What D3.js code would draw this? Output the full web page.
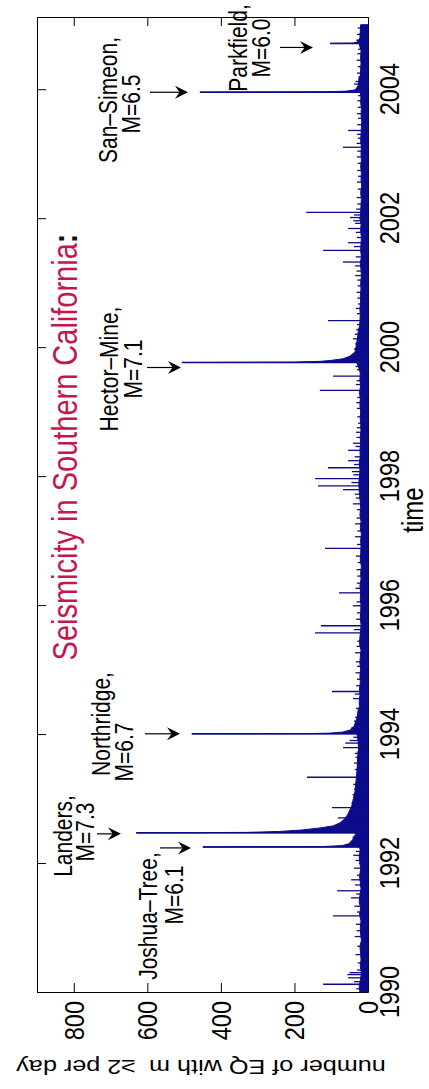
<!DOCTYPE html>
<html>
<head>
<meta charset="utf-8">
<script src="https://cdn.jsdelivr.net/npm/d3@7"></script>
<style>
  html, body { margin: 0; padding: 0; background: #fff; }
  svg { display: block; }
  text { font-family: "Liberation Sans", Arial, Helvetica, sans-serif; }
</style>
</head>
<body>
<svg id="chart" width="429" height="1089"></svg>
<script>
// ---- data -------------------------------------------------------------
const yearTicks = [1990, 1992, 1994, 1996, 1998, 2000, 2002, 2004];
const countTicks = [0, 200, 400, 600, 800];

// background daily rate, one value every 0.1 yr starting 1990.0
const bgStart = 1990;
const bgStep = 0.1;
const bgCounts = [
  22, 24, 20, 18, 21, 19, 20, 22, 18, 20,
  21, 19, 23, 20, 24, 22, 19, 21, 23, 20,
  22, 24, 21, 26, 30, 38, 34, 32, 30, 31,
  29, 28, 30, 27, 28, 26, 27, 25, 26, 27,
  30, 26, 24, 25, 23, 24, 22, 23, 21, 22,
  20, 22, 21, 19, 23, 22, 20, 19, 21, 20,
  19, 21, 20, 22, 19, 20, 18, 21, 20, 19,
  20, 18, 21, 19, 22, 20, 21, 23, 24, 25,
  23, 22, 24, 21, 22, 20, 21, 19, 20, 21,
  20, 22, 21, 23, 20, 22, 21, 26, 34, 30,
  27, 25, 24, 23, 22, 21, 22, 20, 21, 19,
  20, 18, 19, 21, 18, 20, 19, 18, 20, 19,
  21, 20, 19, 18, 20, 17, 19, 18, 20, 18,
  19, 18, 20, 19, 18, 17, 19, 18, 20, 19,
  24, 22, 21, 20, 19, 20, 19, 24, 22, 21,
  20
];

// aftershock decay after each mainshock: [year, count]
const tailJoshua = [[1992.25, 449], [1992.256, 120], [1992.27, 70], [1992.30, 52], [1992.36, 42], [1992.43, 36]];
const tailLanders = [[1992.468, 630], [1992.475, 330], [1992.49, 240], [1992.514, 177], [1992.545, 130],
  [1992.576, 95], [1992.623, 76], [1992.685, 63], [1992.763, 54], [1992.887, 44], [1993.12, 35],
  [1993.43, 30], [1993.74, 27]];
const tailNorthridge = [[1994.004, 479], [1994.008, 150], [1994.015, 103], [1994.03, 70], [1994.06, 50],
  [1994.12, 38], [1994.25, 30], [1994.4, 26]];
const tailHector = [[1999.762, 506], [1999.768, 200], [1999.78, 130], [1999.793, 103], [1999.82, 68],
  [1999.86, 49], [1999.93, 35], [2000.09, 30], [2000.3, 25]];
const tailSanSimeon = [[2003.953, 457], [2003.96, 120], [2003.97, 60], [2003.99, 35], [2004.05, 27], [2004.2, 24]];
const tailParkfield = [[2004.71, 103], [2004.715, 40], [2004.73, 30], [2004.78, 24]];

// single busy days: [year, count]
const spikes = [
  [1990.12, 122], [1990.22, 54], [1990.27, 56], [1990.30, 50], [1991.18, 95], [1991.46, 46],
  [1991.57, 84], [1991.74, 46], [1992.70, 82], [1992.86, 98], [1993.33, 166], [1993.79, 68],
  [1993.86, 62], [1993.90, 50], [1994.55, 41], [1994.66, 98], [1995.26, 35], [1995.57, 144],
  [1995.68, 128], [1995.99, 41], [1996.19, 79], [1996.34, 30], [1996.88, 117], [1997.06, 35],
  [1997.26, 35], [1997.48, 30], [1997.57, 41], [1997.79, 68], [1997.85, 136], [1997.96, 144],
  [1998.13, 109], [1998.24, 54], [1998.40, 54], [1998.51, 41], [1998.82, 27], [1999.33, 131],
  [1999.55, 95], [2000.13, 41], [2000.41, 109], [2000.67, 27], [2001.11, 35], [2001.26, 35],
  [2001.32, 68], [2001.50, 122], [2001.62, 54], [2001.84, 54], [2002.01, 49], [2002.09, 168],
  [2003.10, 68], [2003.36, 54]
];

const minorSpikes = [
  [1990.05, 32], [1990.16, 38], [1990.34, 30], [1990.45, 28], [1990.58, 34], [1990.71, 29], [1990.86, 36], [1990.95, 31],
  [1991.05, 33], [1991.24, 30], [1991.33, 37], [1991.52, 32], [1991.66, 35], [1991.81, 30], [1991.92, 38],
  [1992.04, 34], [1992.12, 40], [1992.18, 33], [1992.40, 42], [1992.58, 60], [1992.64, 55], [1992.74, 50],
  [1992.80, 47], [1992.93, 45], [1992.98, 40],
  [1993.06, 42], [1993.15, 38], [1993.22, 40], [1993.45, 36], [1993.55, 38], [1993.64, 34], [1993.70, 36], [1993.95, 40],
  [1994.10, 45], [1994.20, 38], [1994.26, 35], [1994.40, 33], [1994.62, 36], [1994.75, 32], [1994.85, 30], [1994.95, 34],
  [1995.05, 30], [1995.12, 33], [1995.36, 31], [1995.44, 29], [1995.62, 38], [1995.78, 32], [1995.88, 30],
  [1996.05, 31], [1996.26, 34], [1996.45, 29], [1996.55, 31], [1996.66, 28], [1996.76, 33], [1996.94, 30],
  [1997.15, 29], [1997.35, 31], [1997.66, 33], [1997.72, 36], [1997.90, 45], [1998.02, 40], [1998.07, 44],
  [1998.18, 38], [1998.30, 36], [1998.46, 34], [1998.60, 31], [1998.68, 33], [1998.75, 30], [1998.92, 29],
  [1999.05, 30], [1999.14, 32], [1999.22, 29], [1999.42, 33], [1999.48, 31], [1999.65, 30], [1999.70, 34],
  [1999.88, 40], [1999.97, 38], [2000.05, 35], [2000.20, 36], [2000.27, 32], [2000.35, 30], [2000.52, 30],
  [2000.60, 33], [2000.76, 29], [2000.85, 31], [2000.95, 28],
  [2001.04, 29], [2001.18, 31], [2001.40, 33], [2001.56, 38], [2001.70, 30], [2001.78, 33], [2001.92, 35], [2001.96, 40],
  [2002.05, 38], [2002.14, 32], [2002.22, 29], [2002.32, 31], [2002.45, 28], [2002.56, 30], [2002.65, 27],
  [2002.74, 29], [2002.85, 28], [2002.95, 30],
  [2003.04, 29], [2003.16, 31], [2003.24, 28], [2003.30, 30], [2003.45, 29], [2003.55, 27], [2003.62, 30],
  [2003.72, 28], [2003.82, 29], [2003.90, 27],
  [2004.08, 38], [2004.12, 34], [2004.25, 30], [2004.35, 28], [2004.45, 31], [2004.55, 29], [2004.62, 27],
  [2004.76, 32], [2004.85, 30], [2004.95, 28]
];

// labelled mainshocks
const quakeNames = ["Joshua\u2013Tree,", "Landers,", "Northridge,", "Hector\u2013Mine,", "San\u2013Simeon,", "Parkfield,"];
const quakeMags = ["M=6.1", "M=7.3", "M=6.7", "M=7.1", "M=6.5", "M=6.0"];
const quakeYears = [1992.25, 1992.468, 1994.004, 1999.762, 2003.953, 2004.71];
const quakeCounts = [449, 630, 479, 506, 457, 103];

// ---- layout -----------------------------------------------------------
const svg = d3.select("#chart");
const pLeft = 37, pRight = 368, pTop = 17, pBottom = 992;
const SX = 1.2;           // horizontal stretch applied to the lettering
const INK = "#0b0b8c";

// counts run right-to-left, time runs bottom-to-top
const x = d3.scaleLinear().domain([0, 900]).range([pRight, pLeft]);
const y = d3.scaleLinear().domain([1990, 2005.12]).range([pBottom, pTop]);

// label placement for each mainshock: name line, magnitude line, arrow
const noteLayout = [
  { nx: 157, ny: 916, mx: 183, my: 895, ax1: 160, ax2: 191, dy: 1 },
  { nx: 72,  ny: 836, mx: 94,  my: 832, ax1: 97,  ax2: 121, dy: 1 },
  { nx: 110, ny: 724, mx: 133, my: 752, ax1: 145, ax2: 180, dy: 0 },
  { nx: 118, ny: 369, mx: 142, my: 369, ax1: 147, ax2: 181, dy: 5 },
  { nx: 117, ny: 100, mx: 140, my: 104, ax1: 150, ax2: 188, dy: 0 },
  { nx: 247, ny: 48,  mx: 270, my: 48,  ax1: 280, ax2: 313, dy: 4 }
];

function vtext(g, tx, ty, str, size, anchor) {
  return g.append("text")
    .attr("transform", `translate(${tx},${ty}) scale(${SX},1) rotate(-90)`)
    .attr("text-anchor", anchor || "middle")
    .attr("font-size", size)
    .attr("fill", "#000")
    .text(str);
}

// ---- frame and ticks --------------------------------------------------
const axes = svg.append("g").attr("stroke-width", 1);
axes.append("g").attr("transform", `translate(0,${pBottom})`)
  .call(d3.axisTop(x).tickValues(countTicks).tickSize(9).tickSizeOuter(0).tickFormat(""));
axes.append("g").attr("transform", `translate(0,${pTop})`)
  .call(d3.axisBottom(x).tickValues(countTicks).tickSize(9).tickSizeOuter(0).tickFormat(""));
axes.append("g").attr("transform", `translate(${pLeft},0)`)
  .call(d3.axisRight(y).tickValues(yearTicks).tickSize(9).tickSizeOuter(0).tickFormat(""));
axes.append("g").attr("transform", `translate(${pRight},0)`)
  .call(d3.axisLeft(y).tickValues(yearTicks).tickSize(9).tickSizeOuter(0).tickFormat(""));
axes.selectAll("path.domain").attr("stroke", "#000");
axes.selectAll(".tick line").attr("stroke", "#000");

// ---- data -------------------------------------------------------------
const plot = svg.append("g");
const area = d3.area()
  .y(d => y(d[0]))
  .x0(x(0))
  .x1(d => x(d[1]));

const bg = bgCounts.map((v, i) => [bgStart + i * bgStep, v]);
plot.append("path").datum(bg)
  .attr("d", area).attr("fill", INK).attr("stroke", INK).attr("stroke-width", 1);

[tailJoshua, tailLanders, tailNorthridge, tailHector, tailSanSimeon, tailParkfield].forEach(t => {
  plot.append("path").datum(t)
    .attr("d", area).attr("fill", INK).attr("stroke", INK).attr("stroke-width", 1);
});

const spikeLines = spikes.concat(minorSpikes);
plot.selectAll("line.spike").data(spikeLines).join("line")
  .attr("class", "spike")
  .attr("x1", x(0)).attr("x2", d => x(d[1]))
  .attr("y1", d => y(d[0])).attr("y2", d => y(d[0]))
  .attr("stroke", INK).attr("stroke-width", 1.3);

plot.selectAll("line.main").data(quakeYears.map((yr, i) => [yr, quakeCounts[i]])).join("line")
  .attr("class", "main")
  .attr("x1", x(0)).attr("x2", d => x(d[1]))
  .attr("y1", d => y(d[0])).attr("y2", d => y(d[0]))
  .attr("stroke", INK).attr("stroke-width", 1.5);

// ---- tick labels ------------------------------------------------------
const labels = svg.append("g");
countTicks.forEach(v => vtext(labels, x(v) + 10, 1001, String(v), 23.5, "end"));
yearTicks.forEach(yr => vtext(labels, 399, y(yr), String(yr), 23.5, "middle"));
vtext(labels, 423, 510, "time", 24, "middle");

labels.append("text")
  .attr("transform", `translate(201,1060) scale(${SX},1) rotate(180)`)
  .attr("text-anchor", "middle")
  .attr("font-size", 21)
  .text("number of EQ with m \u00A0\u22652 per day");

// ---- title ------------------------------------------------------------
const title = labels.append("text")
  .attr("transform", `translate(77,447) scale(${SX},1) rotate(-90)`)
  .attr("text-anchor", "middle")
  .attr("font-size", 29);
title.append("tspan").attr("fill", "#c3174d").text("Seismicity in Southern California");
title.append("tspan").attr("fill", "#111").attr("font-weight", "bold").text(":");

// ---- annotations ------------------------------------------------------
const notes = svg.append("g");
quakeYears.forEach((yr, i) => {
  const L = noteLayout[i];
  vtext(notes, L.nx, L.ny, quakeNames[i], 21);
  vtext(notes, L.mx, L.my, quakeMags[i], 21);
  const ay = y(yr) + L.dy;
  notes.append("line")
    .attr("x1", L.ax1).attr("x2", L.ax2 - 6).attr("y1", ay).attr("y2", ay)
    .attr("stroke", "#000").attr("stroke-width", 1.2);
  const tip = L.ax2, len = 13, half = 6.5;
  notes.append("path")
    .attr("d", `M${tip},${ay} L${tip - len},${ay - half} L${tip - len * 0.65},${ay} L${tip - len},${ay + half} Z`)
    .attr("fill", "#000");
});
</script>
</body>
</html>
